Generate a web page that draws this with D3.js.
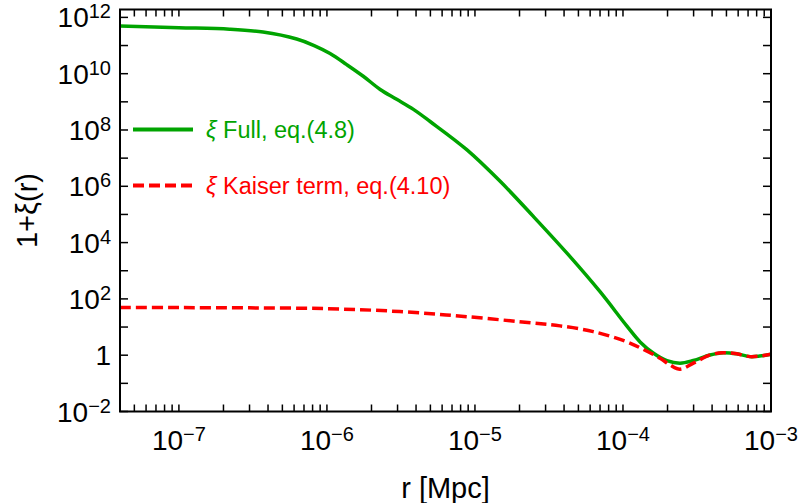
<!DOCTYPE html>
<html>
<head>
<meta charset="utf-8">
<script src="https://cdn.jsdelivr.net/npm/d3@7"></script>
<style>
  body { margin: 0; background: #fff; }
  text { font-family: "Liberation Sans", Arial, sans-serif; }
</style>
</head>
<body>
<svg id="chart"></svg>
<script>
// ---- data ----
const rFull = [4e-8, 1e-7, 2.2e-7, 3.7e-7, 6.25e-7, 8.2e-7, 1.05e-6, 1.36e-6, 1.76e-6, 2.29e-6, 2.96e-6,
    3.84e-6, 4.98e-6, 8.8e-6, 1.48e-5, 2.48e-5, 4.17e-5, 7.0e-5, 1.06e-4, 1.31e-4, 1.6e-4,
    1.98e-4, 2.43e-4, 2.99e-4, 3.87e-4, 4.76e-4, 5.87e-4, 7.2e-4, 8.4e-4, 1e-3];
const xiFull = [4.9e11, 4.3e11, 3.8e11, 3.0e11, 1.7e11, 1.0e11, 5.2e10, 2.1e10, 8.1e9, 2.75e9, 1.23e9,
    5.4e8, 2.0e8, 2.0e7, 1.5e6, 8.5e4, 4.3e3, 180, 11, 2.9, 1.2,
    0.64, 0.52, 0.65, 1.02, 1.23, 1.12, 0.89, 0.93, 1.08];

const rKaiser = [4e-8, 1e-7, 3e-7, 1e-6, 3.1e-6, 8.8e-6, 2.48e-5, 3.76e-5, 6.3e-5, 1.06e-4,
    1.37e-4, 1.78e-4, 2.08e-4, 2.43e-4, 2.99e-4, 3.87e-4, 4.76e-4, 5.87e-4, 7.2e-4, 8.4e-4, 1e-3];
const xiKaiser = [49, 49, 48, 45, 35.5, 23.4, 13.8, 11.0, 6.9, 3.0,
    1.62, 0.78, 0.45, 0.32, 0.52, 1.02, 1.23, 1.12, 0.89, 0.93, 1.08];

const xMajor = [-7, -6, -5, -4, -3];          // exponents labelled on x
const yDecades = d3.range(-2, 13);             // a tick every decade
const yLabelled = [-2, 0, 2, 4, 6, 8, 10, 12]; // labels every two decades

const legendItems = [
    {name: " Full, eq.(4.8)", color: "#00a400", dash: null},
    {name: " Kaiser term, eq.(4.10)", color: "#ff0000", dash: "11,5"}
];

// ---- layout ----
const width = 798, height = 503;
const marginLeft = 120, marginRight = 27, marginTop = 9.5, marginBottom = 91.5;

const svg = d3.select("#chart")
    .attr("width", width)
    .attr("height", height)
    .attr("viewBox", [0, 0, width, height]);

const x = d3.scaleLog()
    .domain([4e-8, 1e-3])
    .range([marginLeft, width - marginRight]);

const y = d3.scaleLog()
    .domain([1e-2, Math.pow(10, 12.28)])
    .range([height - marginBottom, marginTop]);

const x0 = marginLeft, x1 = width - marginRight;
const y0 = height - marginBottom, y1 = marginTop;

// minor + major ticks on x (1..9 x 10^n inside domain)
const xTicks = [];
for (let e = -8; e <= -3; e++) {
    for (let k = 1; k <= 9; k++) {
        const v = k * Math.pow(10, e);
        if (v >= 4e-8 * 0.999 && v <= 1e-3 * 1.001) xTicks.push(v);
    }
}

const tickLen = 7;
const ticks = svg.append("g").attr("stroke", "#000").attr("stroke-width", 1.5);

xTicks.forEach(v => {
    const px = x(v);
    ticks.append("line").attr("x1", px).attr("x2", px).attr("y1", y0).attr("y2", y0 - tickLen);
    ticks.append("line").attr("x1", px).attr("x2", px).attr("y1", y1).attr("y2", y1 + tickLen);
});

yDecades.forEach(e => {
    const py = y(Math.pow(10, e));
    ticks.append("line").attr("x1", x0).attr("x2", x0 + 8).attr("y1", py).attr("y2", py);
    ticks.append("line").attr("x1", x1).attr("x2", x1 - 8).attr("y1", py).attr("y2", py);
});

// ---- curves ----
const line = d3.line()
    .x(d => x(d[0]))
    .y(d => y(d[1]))
    .curve(d3.curveCatmullRom.alpha(0.5));

svg.append("clipPath").attr("id", "clip")
    .append("rect").attr("x", x0).attr("y", y1).attr("width", x1 - x0).attr("height", y0 - y1);

const plot = svg.append("g").attr("clip-path", "url(#clip)");

plot.append("path")
    .datum(d3.zip(rFull, xiFull))
    .attr("fill", "none")
    .attr("stroke", legendItems[0].color)
    .attr("stroke-width", 3.5)
    .attr("d", line);

plot.append("path")
    .datum(d3.zip(rKaiser, xiKaiser))
    .attr("fill", "none")
    .attr("stroke", legendItems[1].color)
    .attr("stroke-width", 3.5)
    .attr("stroke-dasharray", legendItems[1].dash)
    .attr("d", line);

// ---- frame ----
svg.append("rect")
    .attr("x", x0).attr("y", y1)
    .attr("width", x1 - x0).attr("height", y0 - y1)
    .attr("fill", "none")
    .attr("stroke", "#000")
    .attr("stroke-width", 2);

// ---- tick labels ----
function powLabel(t, e) {
    if (e === 0) { t.text("1"); return; }
    t.append("tspan").text("10");
    t.append("tspan")
        .attr("font-size", "20px")
        .attr("dy", "-0.45em")
        .text(e < 0 ? "\u2212" + (-e) : String(e));
}

xMajor.forEach(e => {
    const t = svg.append("text")
        .attr("x", x(Math.pow(10, e)))
        .attr("y", 450)
        .attr("text-anchor", "middle")
        .attr("font-size", "28px");
    powLabel(t, e);
});

yLabelled.forEach(e => {
    const t = svg.append("text")
        .attr("x", 111)
        .attr("y", y(Math.pow(10, e)) + 10)
        .attr("text-anchor", "end")
        .attr("font-size", "28px");
    powLabel(t, e);
});

// ---- axis titles ----
svg.append("text")
    .attr("x", (x0 + x1) / 2)
    .attr("y", 498)
    .attr("text-anchor", "middle")
    .attr("font-size", "29px")
    .text("r [Mpc]");

svg.append("text")
    .attr("transform", `translate(37, ${(y0 + y1) / 2}) rotate(-90)`)
    .attr("text-anchor", "middle")
    .attr("font-size", "29px")
    .text("1+\u03BE(r)");

// ---- legend ----
const legend = svg.append("g");
legendItems.forEach((d, i) => {
    const ly = 129.5 + i * 56;
    legend.append("line")
        .attr("x1", 133).attr("x2", 193)
        .attr("y1", ly).attr("y2", ly)
        .attr("stroke", d.color)
        .attr("stroke-width", 4)
        .attr("stroke-dasharray", d.dash);
    const t = legend.append("text")
        .attr("x", 206)
        .attr("y", ly + 8)
        .attr("font-size", "23.5px")
        .attr("fill", d.color);
    t.append("tspan").attr("font-style", "italic").text("\u03BE");
    t.append("tspan").text(d.name);
});
</script>
</body>
</html>
